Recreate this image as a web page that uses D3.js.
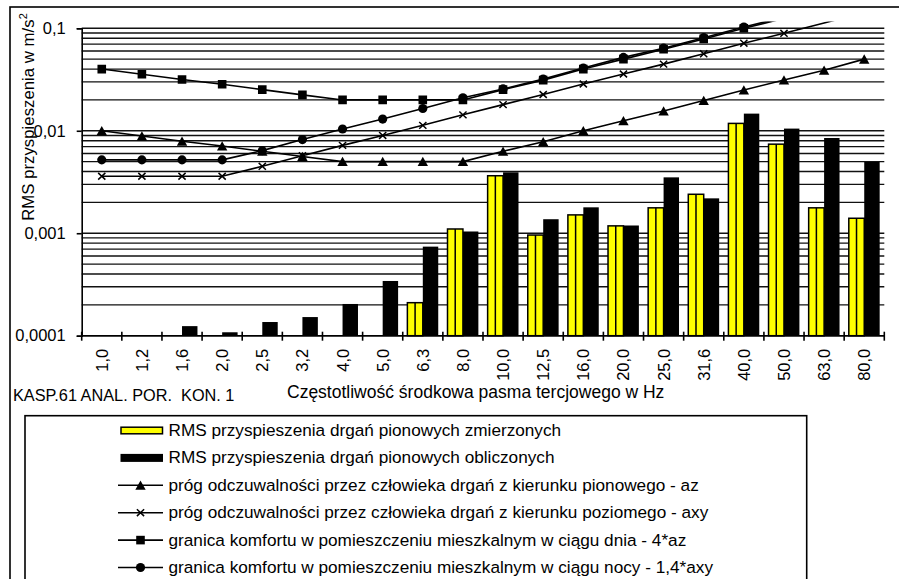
<!DOCTYPE html>
<html>
<head>
<meta charset="utf-8">
<script src="https://cdn.jsdelivr.net/npm/d3@7"></script>
<style>
  html, body { margin: 0; padding: 0; background: #fff; }
  svg { display: block; font-family: "Liberation Sans", Arial, sans-serif; }
  text { white-space: pre; }
</style>
</head>
<body>
<svg id="chart" width="899" height="579"></svg>
<script>
// Third-octave band centre frequencies (Hz)
const freqLabels = ["1,0","1,2","1,6","2,0","2,5","3,2","4,0","5,0","6,3","8,0",
                    "10,0","12,5","16,0","20,0","25,0","31,6","40,0","50,0","63,0","80,0"];

// RMS vertical acceleration, measured (m/s²)
const measured = [null, null, null, null, null, null, null, null, 0.00021, 0.0011,
                  0.00364, 0.00096, 0.00151, 0.00118, 0.00177, 0.0024, 0.0118, 0.0074, 0.00177, 0.0014];
// RMS vertical acceleration, calculated (m/s²)
const calculated = [null, null, 0.000124, 0.000108, 0.000136, 0.000152, 0.000204, 0.000342, 0.00074, 0.00104,
                    0.00393, 0.00137, 0.00179, 0.00119, 0.00351, 0.00219, 0.0147, 0.0105, 0.0085, 0.00496];

// Perception thresholds and comfort limits (m/s²)
const thresholdVertical = [0.01, 0.0089, 0.0079, 0.0071, 0.0063, 0.0056, 0.005, 0.005, 0.005, 0.005,
                           0.0063, 0.0078, 0.01, 0.0125, 0.0156, 0.0197, 0.025, 0.0313, 0.039, 0.05];
const thresholdHorizontal = [0.0036, 0.0036, 0.0036, 0.0036, 0.0045, 0.0057, 0.0072, 0.009, 0.0113, 0.0143,
                             0.018, 0.0226, 0.0286, 0.0358, 0.0447, 0.0564, 0.0715, 0.0894, 0.1126, 0.143];
const comfortDay = [0.04, 0.0356, 0.0316, 0.0284, 0.0252, 0.0224, 0.02, 0.02, 0.02, 0.02,
                    0.0252, 0.0312, 0.04, 0.05, 0.0624, 0.0788, 0.1, 0.125, 0.156, 0.2];
const comfortNight = [0.0052, 0.0052, 0.0052, 0.0052, 0.0064, 0.0082, 0.0104, 0.013, 0.0165, 0.021,
                      0.0256, 0.032, 0.041, 0.052, 0.064, 0.081, 0.103, 0.128, 0.16, 0.2];

const yTickValues = [0.0001, 0.001, 0.01, 0.1];
const yTickLabels = ["0,0001", "0,001", "0,01", "0,1"];

const yTitle = "RMS przyspieszenia w m/s";
const xTitle = "Częstotliwość środkowa pasma tercjowego w Hz";
const footNote = "KASP.61 ANAL. POR.  KON. 1";

const legendLabels = [
  "RMS przyspieszenia drgań pionowych zmierzonych",
  "RMS przyspieszenia drgań pionowych obliczonych",
  "próg odczuwalności przez człowieka drgań z kierunku pionowego - az",
  "próg odczuwalności przez człowieka drgań z kierunku poziomego - axy",
  "granica komfortu w pomieszczeniu mieszkalnym w ciągu dnia - 4*az",
  "granica komfortu w pomieszczeniu mieszkalnym w ciągu nocy - 1,4*axy"
];

const svg = d3.select("#chart");
const plot = { left: 81.7, right: 884.3, top: 28.3, bottom: 335.7 };

// outer frame
svg.append("rect").attr("x", 10).attr("y", 7).attr("width", 900).attr("height", 600)
  .attr("fill", "none").attr("stroke", "#000").attr("stroke-width", 1.6);

const x = d3.scaleBand().domain(d3.range(freqLabels.length))
  .range([plot.left, plot.right]).paddingInner(0).paddingOuter(0);
const xSub = d3.scaleBand().domain(["m", "c"]).range([0, x.bandwidth()])
  .paddingInner(0).paddingOuter(0.3);
const y = d3.scaleLog().domain([0.0001, 0.1]).range([plot.bottom, plot.top]);

// horizontal gridlines at every 1..9 step of each decade
const gridValues = [];
[0.0001, 0.001, 0.01].forEach(d => { for (let k = 1; k <= 9; k++) gridValues.push(k * d); });
gridValues.push(0.1);
svg.append("g").selectAll("line").data(gridValues).join("line")
  .attr("x1", plot.left).attr("x2", plot.right)
  .attr("y1", d => y(d)).attr("y2", d => y(d))
  .attr("stroke", "#111").attr("stroke-width", 1.4);

// bars
const bars = svg.append("g");
measured.forEach((v, i) => {
  if (v == null) return;
  const x0 = x(i) + xSub("m"), w = xSub.bandwidth();
  bars.append("rect").attr("x", x0).attr("y", y(v)).attr("width", w)
    .attr("height", y(0.0001) - y(v))
    .attr("fill", "#ffff00").attr("stroke", "#000").attr("stroke-width", 1.5);
  bars.append("line").attr("x1", x0 + w / 2).attr("x2", x0 + w / 2)
    .attr("y1", y(v)).attr("y2", y(0.0001))
    .attr("stroke", "#000").attr("stroke-width", 1.5);
});
calculated.forEach((v, i) => {
  if (v == null) return;
  bars.append("rect").attr("x", x(i) + xSub("c")).attr("y", y(v))
    .attr("width", xSub.bandwidth()).attr("height", y(0.0001) - y(v))
    .attr("fill", "#000");
});

// axes
const yAxis = d3.axisLeft(y).tickValues(yTickValues)
  .tickFormat((d, i) => yTickLabels[i]).tickSize(5).tickPadding(11);
const gy = svg.append("g").attr("transform", `translate(${plot.left},0)`).call(yAxis);
gy.select(".domain").attr("stroke", "#000").attr("stroke-width", 1.6);
gy.selectAll(".tick line").attr("stroke", "#000").attr("stroke-width", 1.6);
gy.selectAll(".tick text").attr("font-size", 16.5).attr("fill", "#000")
  .attr("font-family", "Liberation Sans, Arial, sans-serif");

const gx = svg.append("g").attr("transform", `translate(0,${plot.bottom})`);
gx.append("line").attr("x1", plot.left).attr("x2", plot.right)
  .attr("stroke", "#000").attr("stroke-width", 1.6);
const boundaries = d3.range(freqLabels.length + 1).map(i => plot.left + i * x.step());
gx.selectAll(".bt").data(boundaries).join("line").attr("class", "bt")
  .attr("x1", d => d).attr("x2", d => d).attr("y1", -4).attr("y2", 5)
  .attr("stroke", "#000").attr("stroke-width", 1.6);
gx.selectAll(".lbl").data(freqLabels).join("text").attr("class", "lbl")
  .attr("transform", (d, i) => `translate(${x(i) + x.bandwidth() / 2 + 6},${13}) rotate(-90)`)
  .attr("text-anchor", "end").attr("font-size", 16.5).attr("fill", "#000").text(d => d);

// threshold and comfort curves
const clip = svg.append("clipPath").attr("id", "plotClip");
clip.append("rect").attr("x", plot.left).attr("y", 21.5)
  .attr("width", plot.right - plot.left).attr("height", plot.bottom - 21.5);

const cx = i => x(i) + x.bandwidth() / 2;
const lineGen = d3.line().x((d, i) => cx(i)).y(d => y(d));

const markerPaths = {
  triangle: "M0,-4.8L5.2,4.5L-5.2,4.5Z",
  square: "M-4.3,-4.3H4.3V4.3H-4.3Z",
  circle: d3.symbol(d3.symbolCircle, 66)(),
  cross: "M-3.6,-3.4L3.6,3.4M-3.6,3.4L3.6,-3.4"
};

const series = [
  { values: thresholdVertical, marker: "triangle" },
  { values: thresholdHorizontal, marker: "cross" },
  { values: comfortDay, marker: "square" },
  { values: comfortNight, marker: "circle" }
];

const curves = svg.append("g").attr("clip-path", "url(#plotClip)");
function drawMarker(g, type, tx, ty) {
  const p = g.append("path").attr("d", markerPaths[type])
    .attr("transform", `translate(${tx},${ty})`);
  if (type === "cross") p.attr("fill", "none").attr("stroke", "#000").attr("stroke-width", 1.5);
  else p.attr("fill", "#000");
}
series.forEach(s => {
  curves.append("path").attr("d", lineGen(s.values))
    .attr("fill", "none").attr("stroke", "#000").attr("stroke-width", 1.6);
  s.values.forEach((v, i) => {
    if (v <= 0.105) drawMarker(curves, s.marker, cx(i), y(v));
  });
});

// axis titles and note
svg.append("text").attr("transform", "translate(33.5,117) rotate(-90)")
  .attr("text-anchor", "middle").attr("font-size", 16.8).attr("fill", "#000")
  .text(yTitle)
  .append("tspan").attr("dy", -7).attr("font-size", 11).text("2");

svg.append("text").attr("x", 287).attr("y", 398).attr("font-size", 17.5).attr("fill", "#000")
  .text(xTitle);
svg.append("text").attr("x", 13).attr("y", 401).attr("font-size", 16.3).attr("fill", "#000")
  .text(footNote);

// legend
const lg = svg.append("g");
lg.append("rect").attr("x", 25).attr("y", 415.7).attr("width", 781.7).attr("height", 200)
  .attr("fill", "#fff").attr("stroke", "#000").attr("stroke-width", 1.6);
const rowY = i => 430.5 + i * 27.4;
lg.append("rect").attr("x", 121).attr("y", rowY(0) - 3.3).attr("width", 41.5).attr("height", 6.6)
  .attr("fill", "#ffff00").attr("stroke", "#000").attr("stroke-width", 1.5);
lg.append("rect").attr("x", 120.5).attr("y", rowY(1) - 4).attr("width", 42.5).attr("height", 8)
  .attr("fill", "#000");
series.forEach((s, k) => {
  const yy = rowY(k + 2);
  lg.append("line").attr("x1", 118).attr("x2", 163).attr("y1", yy).attr("y2", yy)
    .attr("stroke", "#000").attr("stroke-width", 1.6);
  drawMarker(lg, s.marker, 140.5, yy);
});
lg.selectAll(".lt").data(legendLabels).join("text").attr("class", "lt")
  .attr("x", 168.5).attr("y", (d, i) => rowY(i) + 5.5)
  .attr("font-size", 17.2).attr("fill", "#000").text(d => d);
</script>
</body>
</html>
